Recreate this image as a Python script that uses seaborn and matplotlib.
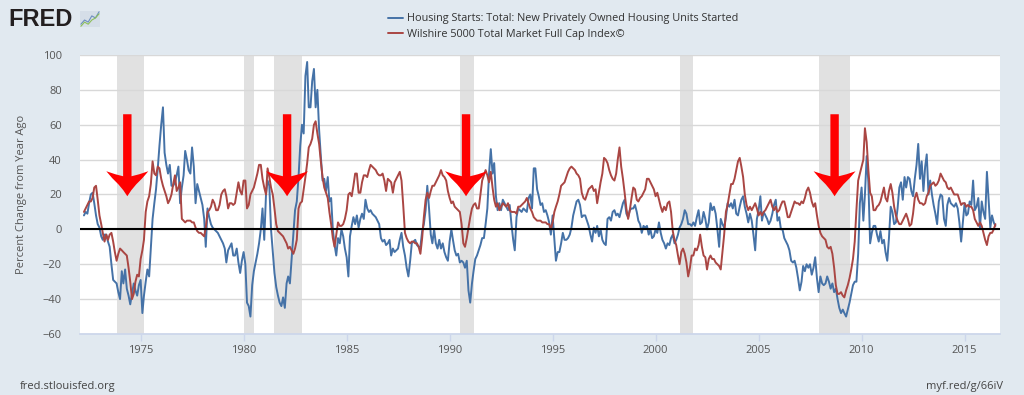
import pandas as pd
import matplotlib
matplotlib.use('Agg')
import matplotlib.pyplot as plt
import matplotlib.dates as mdates
import matplotlib.transforms as mtransforms
from matplotlib.patches import Polygon
import seaborn as sns

HOUSING_LABEL = 'Housing Starts: Total: New Privately Owned Housing Units Started'
WILSHIRE_LABEL = 'Wilshire 5000 Total Market Full Cap Index\u00a9'

# percent change from year ago, monthly from Apr 1972 to Jul 2016 (rows = years)
housing = [
    8, 10, 9, 15, 20, 21, 15, 8, 3,
    1, -4, -6, -3, -3, -7, -10, -20, -29, -30, -31, -36,
    -40, -24, -31, -23, -34, -38, -43, -37, -31, -35, -38, -32,
    -29, -48, -38, -30, -23, -27, -11, 6, 15, 23, 35, 48,
    60, 70, 44, 37, 32, 37, 25, 25, 27, 31, 36, 15,
    24, 31, 45, 40, 34, 32, 47, 36, 15, 26, 22, 18,
    14, 6, -10, 12, 7, 3, 1, 0, -1, -2, -4, -6,
    -8, -11, -19, -12, -10, -8, -15, -15, -11, -19, -25, -18,
    -13, -20, -42, -44, -50, -32, -24, -19, -14, -8, 0, 12,
    -6, 20, 28, 25, 0, -13, -25, -33, -38, -42, -44, -39,
    -45, -31, -27, -31, -17, -2, 11, 16, 30, 48, 60, 55,
    88, 96, 70, 70, 85, 92, 70, 80, 57, 42, 28, 29,
    22, 30, 16, 18, 0, -9, -15, -5, -8, 0, -4, -11,
    -16, -27, -4, 2, 7, 3, 8, 1, 6, 9, 6, 17,
    12, 10, 11, 9, 8, 7, 5, 3, -5, -7, -6, -9,
    -8, -6, -15, -11, -13, -12, -11, -6, -2, -10, -15, -22,
    -27, -18, -8, -7, -6, -9, -10, -10, -1, 3, 11, 25,
    12, -3, -8, 0, -8, -11, -6, -11, -8, -13, -16, -18,
    -7, 0, -6, -12, -15, -14, -19, -18, -19, -22, -18, -35,
    -42, -31, -24, -17, -15, -12, -9, -5, -5, 3, 12, 32,
    46, 32, 38, 19, 11, 15, 11, 17, 15, 13, 11, 14,
    3, -6, -12, 7, 12, 11, 10, 12, 11, 10, 18, 20,
    12, 35, 35, 23, 19, 14, 15, 10, 11, 8, 4, -3,
    8, -6, -18, -13, -13, -8, -2, -6, -6, -5, -3, 1,
    8, 12, 16, 17, 14, 7, 8, 8, 5, 2, -3, -7,
    1, -2, 2, -4, 0, -6, -8, -9, 6, 7, 5, 10,
    11, 8, 9, 7, 11, 15, 17, 9, 7, 11, 12, 12,
    14, 10, 5, 3, -2, 2, 1, 2, -3, 0, -5, -4,
    0, -2, 4, -2, -6, -8, -11, -8, -9, -5, -3, -8,
    -6, -3, 1, 3, 6, 11, 9, 3, 3, 2, 4, 2,
    7, 11, 3, 4, 10, 6, 0, 4, 15, 11, 13, 9,
    0, -10, 6, 3, 1, 7, 15, 13, 15, 12, 17, 9,
    8, 13, 17, 19, 13, 9, 4, 9, 5, -3, -12, 6,
    11, 19, 5, 10, 8, 6, 3, 5, 9, 14, 17, 5,
    7, 0, 0, -5, -7, -9, -12, -18, -19, -18, -22, -28,
    -35, -30, -21, -24, -20, -22, -20, -26, -22, -16, -28, -36,
    -27, -31, -32, -31, -27, -30, -34, -31, -36, -34, -40, -45,
    -48, -46, -48, -50, -46, -42, -37, -32, -30, -30, -14, 15,
    24, 5, 20, 42, 27, -8, -2, 2, 2, -3, -7, -1,
    -8, -6, -13, -18, -5, 13, 10, 3, 4, 12, 24, 27,
    17, 30, 24, 30, 29, 22, 19, 29, 37, 49, 29, 39,
    22, 36, 43, 20, 28, 20, 14, 9, 3, 16, 20, 19,
    6, 2, 14, 18, 15, 14, 13, 15, 12, 4, -7, 4,
    15, 8, 9, 16, 14, 28, 11, 13, 18, 1, 16, 10,
    6, 33, 18, 1, 8, 4, 2,
]

wilshire = [
    10, 12, 14, 16, 16, 18, 24, 25, 17,
    8, 3, -2, -7, -3, -6, -3, -2, -7, -13, -18, -14,
    -11, -12, -13, -14, -15, -22, -30, -40, -37, -30, -26, -27,
    -17, -12, -6, 10, 16, 19, 26, 39, 32, 31, 36, 35,
    29, 25, 22, 19, 15, 17, 20, 26, 31, 22, 24, 27,
    6, 5, 4, 5, 5, 5, 4, 4, 1, -1, -2, -2,
    -3, -4, 1, 10, 11, 13, 17, 15, 11, 11, 14, 20,
    22, 23, 19, 12, 15, 15, 14, 15, 21, 27, 22, 20,
    28, 28, 12, 14, 20, 22, 24, 28, 32, 37, 37, 29,
    24, 20, 35, 30, 24, 20, 12, 3, -1, -2, -3, -4,
    -6, -8, -11, -10, -12, -14, -11, -6, 12, 15, 16, 23,
    30, 38, 47, 49, 52, 60, 62, 55, 49, 39, 30, 24,
    21, 18, 10, 3, -5, -10, -3, 4, 2, 2, 3, 6,
    11, 20, 21, 19, 25, 32, 32, 21, 21, 27, 31, 31,
    30, 34, 37, 36, 35, 34, 32, 31, 31, 32, 28, 22,
    29, 28, 27, 21, 27, 29, 31, 33, 28, 14, -2, -5,
    -7, -8, -7, -7, -8, -8, -10, -14, -5, 7, 17, 21,
    18, 22, 25, 25, 27, 29, 31, 34, 31, 30, 28, 22,
    18, 15, 16, 13, 12, 11, 10, 3, -8, -10, -5, 1,
    7, 12, 14, 15, 12, 12, 20, 28, 31, 34, 31, 27,
    33, 24, 17, 13, 15, 11, 13, 15, 14, 13, 15, 11,
    10, 10, 10, 9, 13, 13, 14, 15, 16, 18, 15, 12,
    10, 7, 6, 5, 5, 5, 4, 4, 4, 3, 3, 0,
    4, 10, 13, 16, 20, 25, 26, 27, 30, 33, 35, 36,
    35, 34, 32, 31, 29, 21, 18, 17, 20, 23, 24, 25,
    22, 23, 15, 21, 27, 32, 41, 40, 38, 34, 31, 29,
    28, 32, 40, 47, 36, 29, 21, 12, 6, 11, 18, 24,
    23, 17, 16, 18, 19, 21, 23, 29, 29, 27, 25, 23,
    19, 21, 17, 13, 10, 13, 11, 15, 16, 10, -1, -6,
    -9, -15, -20, -13, -11, -14, -19, -27, -22, -15, -15, -11,
    -12, -9, -3, -10, -15, -16, -23, -17, -15, -17, -17, -19,
    -20, -21, -23, -13, -3, 10, 14, 20, 26, 26, 29, 34,
    39, 41, 36, 30, 20, 14, 11, 13, 11, 13, 15, 12,
    8, 10, 8, 10, 11, 13, 15, 17, 13, 11, 13, 10,
    11, 14, 16, 16, 12, 7, 7, 10, 13, 16, 15, 15,
    14, 16, 15, 18, 22, 24, 21, 16, 13, 15, 8, 2,
    -2, -4, -5, -6, -10, -11, -10, -14, -22, -32, -37, -37,
    -36, -38, -39, -35, -32, -28, -23, -17, -7, 11, 28, 32,
    36, 40, 58, 50, 34, 21, 19, 11, 11, 13, 14, 16,
    20, 24, 18, 16, 22, 26, 21, 13, 8, 5, 3, 3,
    5, 7, 9, 6, 2, 3, 9, 18, 21, 17, 15, 15,
    14, 15, 19, 21, 25, 26, 27, 25, 26, 28, 32, 30,
    28, 27, 24, 23, 24, 22, 20, 20, 20, 17, 14, 15,
    15, 13, 14, 13, 13, 11, 6, 4, 2, 4, 2, -2,
    -6, -9, -4, -2, -2, 0, 3,
]

recession_starts = ['1973-11-01', '1980-01-01', '1981-07-01', '1990-07-01', '2001-03-01', '2007-12-01']
recession_ends = ['1975-03-01', '1980-07-01', '1982-11-01', '1991-03-01', '2001-11-01', '2009-06-01']

arrow_dates = ['1974-05-10', '1982-02-10', '1990-10-19', '2008-09-09']
arrow_tip_value = 19

# tiny chart icon next to the FRED logo
logo_blue = [1, 3, 2, 5, 4, 7]
logo_green = [0, 2, 1, 3, 4, 6]

BG = '#e1e9f0'
BLUE = '#4572a7'
RED = '#aa4643'

dates = pd.date_range('1972-04-01', periods=len(housing), freq='MS')
df = pd.DataFrame({'date': dates, HOUSING_LABEL: housing, WILSHIRE_LABEL: wilshire})
long_df = df.melt(id_vars='date', var_name='series', value_name='value')

sns.set_theme(style='white')
plt.rcParams['font.family'] = ['Open Sans', 'DejaVu Sans']

fig = plt.figure(figsize=(10.24, 3.95), dpi=100, facecolor=BG)
ax = fig.add_axes([80 / 1024, 1 - 334 / 395, 920 / 1024, 279 / 395])
ax.set_facecolor('white')

for s, e in zip(recession_starts, recession_ends):
    ax.axvspan(pd.Timestamp(s), pd.Timestamp(e), color='#e1e1e1', lw=0, zorder=0)

sns.lineplot(data=long_df, x='date', y='value', hue='series',
             hue_order=[HOUSING_LABEL, WILSHIRE_LABEL],
             palette=[BLUE, RED], linewidth=1.4, ax=ax, zorder=2)
ax.axhline(0, color='black', lw=1.5, zorder=3)

ax.set_ylim(-60, 100)
ax.set_yticks(range(-60, 101, 20))
ax.set_xlim(pd.Timestamp('1972-01-22'), pd.Timestamp('2016-09-20'))
ax.xaxis.set_major_locator(mdates.YearLocator(5))
ax.xaxis.set_major_formatter(mdates.DateFormatter('%Y'))
ax.set_axisbelow(True)
ax.grid(axis='y', color='#d8d8d8', lw=1, zorder=0.5)
ax.grid(axis='x', visible=False)
for side in ['top', 'left', 'right']:
    ax.spines[side].set_visible(False)
ax.spines['bottom'].set_color('#ccd6eb')
ax.tick_params(axis='y', length=0, pad=13, labelsize=8, labelcolor='#555555')
ax.tick_params(axis='x', length=5, width=1, color='#ccd6eb', pad=3,
               labelsize=8, labelcolor='#555555', bottom=True)
ax.set_xlabel('')
ax.set_ylabel('Percent Change from Year Ago', fontsize=8, color='#555555')
ax.yaxis.set_label_coords(-53 / 920, 0.5)

handles, labels = ax.get_legend_handles_labels()
ax.legend(handles, labels, loc='upper left', bbox_to_anchor=(383 / 1024, 1 - 8 / 395),
          bbox_transform=fig.transFigure, frameon=False, fontsize=7.8,
          handlelength=1.3, handletextpad=0.4, labelspacing=0.4, borderpad=0,
          labelcolor='#333333')

# red arrows pointing at recessions (shape in pixels relative to the tip)
half = [(0, 0), (4, 6), (9, 12), (15, 18), (21, 25), (12, 22), (4.2, 20), (4.2, 82)]
shape = half + [(-x, y) for x, y in reversed(half)]
shape = [(x / 100, y / 100) for x, y in shape]
for d in arrow_dates:
    xnum = mdates.date2num(pd.Timestamp(d))
    trans = fig.dpi_scale_trans + mtransforms.ScaledTranslation(xnum, arrow_tip_value, ax.transData)
    ax.add_patch(Polygon(shape, closed=True, transform=trans, facecolor='#ff0000',
                         edgecolor='none', zorder=5, clip_on=False))

fig.text(8 / 1024, 1 - 19 / 395, 'FRED', fontsize=17, fontweight='bold',
         color='#231f20', va='center', family=['Liberation Sans', 'DejaVu Sans'])
icon = fig.add_axes([80 / 1024, 1 - 27 / 395, 20 / 1024, 16 / 395])
icon.set_facecolor('#d5dee8')
icon.plot(logo_blue, color='#6d8fbf', lw=0.8)
icon.plot(logo_green, color='#8dbf5a', lw=0.8)
icon.set_xticks([])
icon.set_yticks([])
for sp in icon.spines.values():
    sp.set_visible(False)

fig.text(20 / 1024, 1 - 386 / 395, 'fred.stlouisfed.org', fontsize=8, color='#444444', va='center')
fig.text(1003 / 1024, 1 - 386 / 395, 'myf.red/g/66iV', fontsize=8, color='#444444',
         va='center', ha='right')

fig.savefig('out.png', dpi=100, facecolor=BG)
